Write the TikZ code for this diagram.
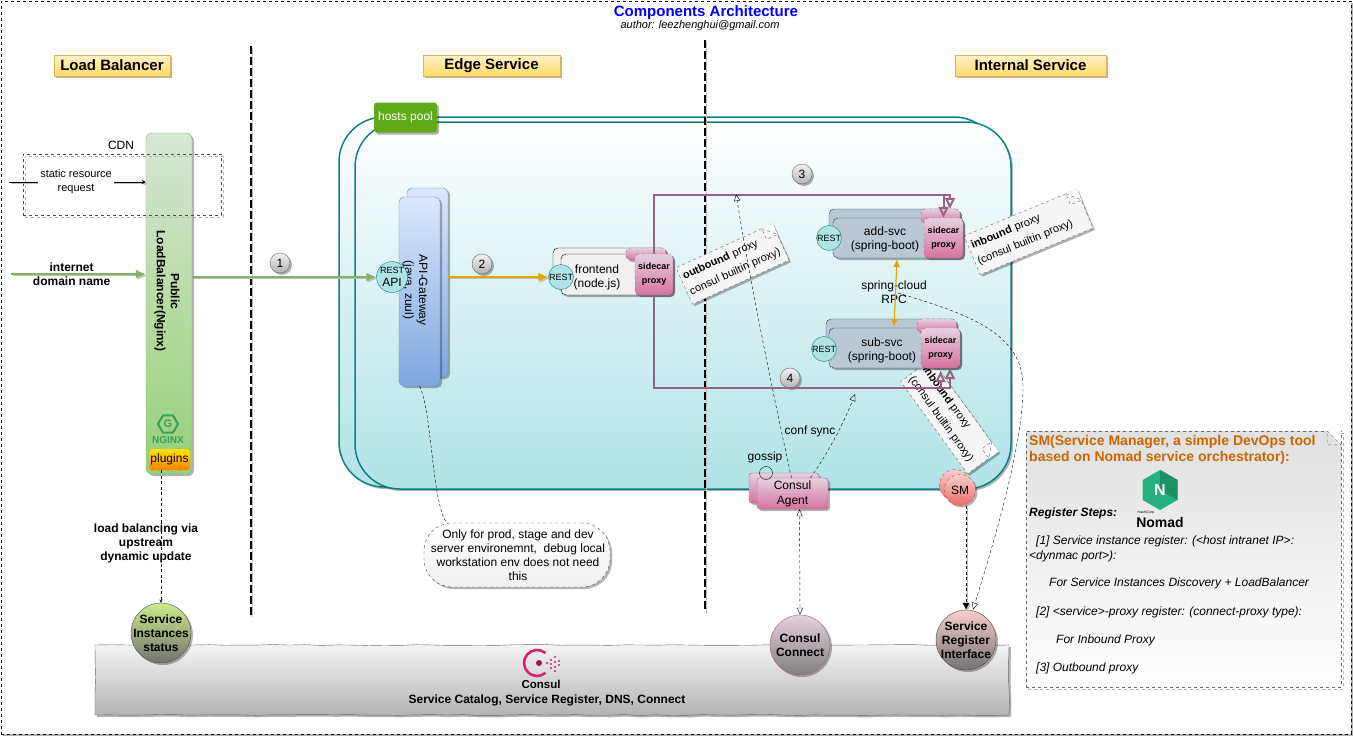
\documentclass[tikz,border=0pt]{standalone}
\usepackage{fontspec}
\setmainfont{Liberation Sans}
\usetikzlibrary{shapes.geometric, arrows.meta, positioning, calc, shadows, decorations.pathmorphing}
\definecolor{hostline}{RGB}{14, 128, 136}
\definecolor{hostfill}{RGB}{176, 227, 230}
\definecolor{poolgreen}{RGB}{96, 169, 23}
\definecolor{lbline}{RGB}{130, 179, 102}
\definecolor{lbtop}{RGB}{213, 232, 212}
\definecolor{lbbottom}{RGB}{151, 208, 119}
\definecolor{gwline}{RGB}{108, 142, 191}
\definecolor{gwtop}{RGB}{218, 232, 252}
\definecolor{gwbottom}{RGB}{126, 166, 224}
\definecolor{svcfill}{RGB}{186, 200, 211}
\definecolor{svcline}{RGB}{35, 68, 93}
\definecolor{sideline}{RGB}{153, 97, 133}
\definecolor{sidetop}{RGB}{230, 208, 222}
\definecolor{sidebottom}{RGB}{213, 115, 157}
\definecolor{amber}{RGB}{227, 165, 0}
\definecolor{bannertop}{RGB}{255, 242, 204}
\definecolor{bannerbottom}{RGB}{255, 217, 102}
\definecolor{bannerline}{RGB}{214, 182, 86}
\definecolor{smtop}{RGB}{248, 206, 204}
\definecolor{smbottom}{RGB}{234, 107, 102}
\definecolor{smline}{RGB}{184, 84, 80}
\definecolor{sminfo}{RGB}{204, 102, 0}
\definecolor{statustop}{RGB}{205, 235, 139}
\definecolor{nomadgreen}{RGB}{37, 178, 127}
\definecolor{nomaddark}{RGB}{28, 145, 100}
\definecolor{nginxgreen}{RGB}{56, 160, 90}
\definecolor{consulpink}{RGB}{214, 35, 120}
\tikzset{softshadow/.style={drop shadow={shadow xshift=2pt, shadow yshift=-2pt, opacity=0.3, fill=black}}}
\tikzset{dashshadow/.style={general shadow={shadow xshift=2pt, shadow yshift=-2pt, draw=black!30, dashed, fill=none}}}
\tikzset{lineshadow/.style={preaction={draw=black!25, transform canvas={xshift=1.5pt, yshift=-1.5pt}}}}
\tikzset{sketch/.style={decorate, decoration={random steps, segment length=16pt, amplitude=0.5pt}}}
\tikzstyle{banner} = [rectangle, minimum height=21pt, text centered, draw=bannerline, top color=bannertop, bottom color=bannerbottom, softshadow, font=\bfseries\fontsize{15}{16}\selectfont]
\tikzstyle{hosts} = [rectangle, rounded corners=45pt, draw=hostline, line width=1.5pt, top color=white, bottom color=hostfill, softshadow]
\tikzstyle{column} = [rectangle, rounded corners=6pt, draw=lbline, top color=lbtop, bottom color=lbbottom, softshadow]
\tikzstyle{gateway} = [rectangle, rounded corners=5pt, draw=gwline, top color=gwtop, bottom color=gwbottom, softshadow]
\tikzstyle{svcbox} = [rectangle, rounded corners=5pt, draw=svcline, fill=svcfill, softshadow]
\tikzstyle{webbox} = [rectangle, rounded corners=5pt, draw=black, fill=black!6, softshadow]
\tikzstyle{sidecar} = [rectangle, rounded corners=4pt, draw=sideline, dashed, top color=sidetop, bottom color=sidebottom, softshadow, align=center, font=\bfseries\fontsize{9}{14}\selectfont]
\tikzstyle{restball} = [circle, draw=hostline, fill=hostfill, inner sep=-3pt, minimum size=25pt, font=\fontsize{9}{10}\selectfont]
\tikzstyle{badge} = [circle, draw=black!60, top color=black!5, bottom color=black!30, inner sep=0pt, minimum size=20pt, softshadow, font=\fontsize{12}{14}\selectfont]
\tikzstyle{note} = [rectangle, draw=black!60, dashed, fill=black!4, inner sep=3pt, align=left, softshadow, font=\fontsize{11}{17}\selectfont]
\tikzstyle{fold} = [draw=black!60, dashed]
\tikzstyle{bigball} = [circle, draw=black!70, inner sep=-7pt, minimum size=60pt, align=center, softshadow, font=\bfseries\fontsize{12}{14}\selectfont]
\tikzstyle{smball} = [circle, draw=smline, dashed, top color=smtop, bottom color=smbottom, inner sep=0pt, minimum size=31pt, softshadow, font=\fontsize{12}{14}\selectfont]
\tikzstyle{agentbox} = [rectangle, rounded corners=3pt, draw=sideline, top color=sidetop, bottom color=sidebottom, align=center, softshadow, font=\fontsize{12}{15}\selectfont]
\tikzstyle{plain} = [align=center, inner sep=0pt, text=black, font=\fontsize{12}{14}\selectfont]
\tikzstyle{boldtext} = [align=center, inner sep=0pt, text=black, font=\bfseries\fontsize{12}{14}\selectfont]
\tikzstyle{arrow} = [thick,->,>=stealth]
\tikzstyle{flow} = [line width=2pt, lineshadow, ->, >={Latex[length=10pt,width=9pt]}]
\tikzstyle{route} = [line width=2pt, draw=sideline, ->, >={Triangle[open,length=11pt,width=10pt]}]
\tikzstyle{link} = [draw=black, dash pattern=on 3pt off 2.5pt, ->, >={Triangle[open,length=7pt,width=6pt]}]
\tikzstyle{divider} = [line width=1.8pt, lineshadow, dash pattern=on 8pt off 3pt]
\newcommand{\foldcorner}[2]{
  \fill [white] ($(#1.north east)!#2!(#1.north west)$) -- (#1.north east) -- ($(#1.north east)!#2!(#1.south east)$) -- cycle;
  \draw [fold] ($(#1.north east)!#2!(#1.north west)$) -- ($(#1.north east)!#2!(#1.south east)$) -- ($(#1.north east)!#2!(#1.south east)!#2!($(#1.north west)!#2!(#1.south west)$)$) -- cycle;
}
\begin{document}
\begin{tikzpicture}[x=1pt, y=-1pt]
    \pgfmathsetseed{7}
    \useasboundingbox (0,0) rectangle (1353,737);
    \node (frame) [rectangle, draw=black, dashed, fill=white, minimum width=1350pt, minimum height=733pt, inner sep=0pt, softshadow] at (676,367.5) {};
    \node (title) [inner sep=0pt, text=blue, font=\bfseries\fontsize{15}{16}\selectfont] at (706,12.5) {Components Architecture};
    \node (author) [inner sep=0pt, font=\itshape\fontsize{11}{13}\selectfont] at (700,25.5) {author: leezhenghui@gmail.com};

    \node (lbbanner) [banner, minimum width=116pt] at (112,65.5) {Load Balancer};
    \node (edgebanner) [banner, minimum width=137pt] at (491.5,65.5) {Edge Service};
    \node (innerbanner) [banner, minimum width=151pt] at (1030.5,65.5) {Internal Service};

    \coordinate (divAtop) at (251,46);
    \coordinate (divAend) at (251,615);
    \coordinate (divBtop) at (705,40);
    \coordinate (divBend) at (705,611);
    \draw [divider] (divAtop) -- (divAend);

    \node (consulbar) [rectangle, draw=black!60, top color=black!4, bottom color=black!30, minimum width=914pt, minimum height=70pt, inner sep=0pt, sketch, softshadow] at (552,680) {};
    \node (consultext) [boldtext] at (547,700) {Service Catalog, Service Register, DNS, Connect};
    \draw [consulpink, line width=2.6pt] (545.4,653) arc (50:310:13pt and 13pt);
    \node (consuldot) [circle, fill=consulpink!70!black, inner sep=0pt, minimum size=6pt] at (539,663) {};
    \foreach \px/\py in {547/663, 551/660, 555/657, 551/664, 555/662, 559/661, 555/667, 559/665, 551/668, 555/671} {
        \fill [consulpink] (\px,\py) circle (1.1pt);
    }
    \node (consulname) [inner sep=0pt, font=\bfseries\fontsize{11.5}{12}\selectfont] at (541,684) {Consul};

    \node (hostsback) [hosts, minimum width=660pt, minimum height=370pt, inner sep=0pt] at (669,302) {};
    \node (hostsfront) [hosts, minimum width=656pt, minimum height=367pt, inner sep=0pt] at (683,305.5) {};
    \node (hostspool) [rectangle, rounded corners=3pt, fill=poolgreen, text=white, minimum width=63pt, minimum height=30pt, inner sep=0pt, softshadow, font=\fontsize{12}{14}\selectfont] at (405.5,117.5) {hosts pool};

    \draw [divider] (divBtop) -- (divBend);

    \node (lbcol) [column, minimum width=46pt, minimum height=341pt, inner sep=0pt] at (169,303.5) {};
    \node (lblabel) [boldtext, rotate=-90] at (167,291) {Public\\LoadBalancer(Nginx)};
    \node (nginxhex) [regular polygon, regular polygon sides=6, draw=nginxgreen, line width=2pt, inner sep=0pt, minimum size=20pt, text=nginxgreen, font=\bfseries\fontsize{11}{11}\selectfont] at (168,424) {G};
    \node (nginxname) [below=3pt of nginxhex, inner sep=0pt, text=nginxgreen, font=\bfseries\fontsize{10}{10}\selectfont] {NGINX};
    \node (plugins) [rectangle, rounded corners=3pt, draw=amber, dashed, top color=yellow!80!orange, bottom color=orange, minimum width=41pt, minimum height=21pt, inner sep=0pt, font=\fontsize{12}{14}\selectfont] at (169.5,459.5) {plugins};

    \node (cdn) [rectangle, draw=black!70, dashed, dashshadow, minimum width=198pt, minimum height=61pt, inner sep=0pt] at (122,184.5) {};
    \node (cdnlabel) [plain] at (121,145) {CDN};
    \coordinate (cdnstart) at (9,182);
    \draw [arrow, black, lineshadow] (cdnstart) -- node[plain, fill=white, inner xsep=2pt, font=\fontsize{11}{14}\selectfont, pos=0.49] (cdnreq) {static resource\\request} (lbcol.west |- cdnstart);

    \coordinate (netstart) at (11,274);
    \draw [flow, lbline] (netstart) -- node[boldtext, pos=0.45] (netlabel) {internet\\domain name} (lbcol.west |- netstart);

    \node (gwback) [gateway, minimum width=41pt, minimum height=189pt, inner sep=0pt] at (427.5,282.5) {};
    \node (gwfront) [gateway, minimum width=41pt, minimum height=189pt, inner sep=0pt] at (419.5,291.5) {};
    \node (gwlabel) [plain, rotate=-90] at (415,290) {API-Gateway\\(java, zuul)};
    \node (gwrest) [restball, minimum size=31pt, align=center, font=\fontsize{9}{13}\selectfont] at (392,277) {REST\\{\fontsize{12}{13}\selectfont API}};

    \node (webback) [webbox, minimum width=113pt, minimum height=40pt, inner sep=0pt] at (609.5,268) {};
    \node (webfront) [webbox, minimum width=112pt, minimum height=41pt, inner sep=0pt] at (617,274.5) {};
    \node (webtext) [plain] at (597,277) {frontend\\(node.js)};
    \node (webback2) [sidecar, minimum width=40pt, minimum height=12pt, inner sep=0pt] at (646,254) {};
    \node (webside) [sidecar, minimum width=38pt, minimum height=41pt, inner sep=0pt] at (654,274.5) {sidecar\\proxy};
    \node (webrest) [restball] at (561,277) {REST};

    \draw [flow, lbline] (lbcol.east |- gwrest) -- (gwrest);
    \draw [flow, amber] (gwback.east |- webrest) -- (webrest);
    \node (badgeone) [badge] at (280,263) {1};
    \node (badgetwo) [badge] at (482,264) {2};
    \node (badgethree) [badge] at (802,174) {3};
    \node (badgefour) [badge] at (790,378) {4};

    \node (noteout) [note, rotate=24.5, text width=100pt, minimum height=40pt] at (732.5,264) {\textbf{outbound} proxy\\consul builtin proxy)};
    \foldcorner{noteout}{12pt}
    \node (notein) [note, rotate=22.5, text width=116pt, minimum height=42pt] at (1028.5,232) {\textbf{inbound} proxy\\(consul builtin proxy)};
    \foldcorner{notein}{12pt}
    \node (notesub) [note, rotate=-54, text width=108pt, minimum height=38pt] at (949.5,416.5) {\textbf{inbound} proxy\\(consul builtin proxy)};
    \foldcorner{notesub}{12pt}

    \node (addback) [svcbox, minimum width=131pt, minimum height=40pt, inner sep=0pt] at (894.5,229) {};
    \node (addfront) [svcbox, minimum width=130pt, minimum height=40pt, inner sep=0pt] at (898,238) {};
    \node (addtext) [plain] at (885,239) {add-svc\\(spring-boot)};
    \node (addback2) [sidecar, minimum width=39pt, minimum height=14pt, inner sep=0pt] at (940.5,216) {};
    \node (addside) [sidecar, minimum width=39pt, minimum height=40pt, inner sep=0pt] at (943.5,238) {sidecar\\proxy};
    \node (addrest) [restball] at (829,238) {REST};

    \node (subback) [svcbox, minimum width=130pt, minimum height=40pt, inner sep=0pt] at (891,339) {};
    \node (subfront) [svcbox, minimum width=131pt, minimum height=40pt, inner sep=0pt] at (894.5,348) {};
    \node (subtext) [plain] at (882,350) {sub-svc\\(spring-boot)};
    \node (subback2) [sidecar, minimum width=39pt, minimum height=14pt, inner sep=0pt] at (937,326) {};
    \node (subside) [sidecar, minimum width=39pt, minimum height=40pt, inner sep=0pt] at (940.5,348) {sidecar\\proxy};
    \node (subrest) [restball] at (824,349) {REST};

    \draw [route] (webside.north) -- ++(0,-59) -| (addside.north);
    \draw [route] (webside.north) -- ++(0,-59) -| ([xshift=9.5pt]addback2.north);
    \draw [route] (webside.south) -- ++(0,93) -| ([yshift=-3pt]subside.south);
    \draw [route] (webside.south) -- ++(0,93) -| ([xshift=9.5pt]subside.south);

    \node (rpclabel) [plain] at (894,292) {spring-cloud\\RPC};
    \draw [amber, line width=1.2pt, <->, >={Latex[length=8pt,width=7pt]}] (897,259) -- (894,327);

    \node (agentback) [agentbox, minimum width=70pt, minimum height=30pt, inner sep=0pt] at (784,488) {};
    \node (agent) [agentbox, minimum width=71pt, minimum height=31pt, inner sep=0pt] at (792.5,493.5) {Consul\\Agent};
    \node (gossiplabel) [plain] at (765,457) {gossip};
    \node (syncloop) [circle, draw=black, inner sep=0pt, minimum size=13pt] at (766,473) {};
    \node (synclabel) [plain] at (810,431) {conf sync};
    \coordinate (syncup) at (736,194);
    \coordinate (syncright) at (855,394);
    \draw [link] ([xshift=-1pt]agent.north) .. controls (770,380) and (750,280) .. (syncup);
    \draw [link] ([xshift=18pt]agent.north) .. controls (830,450) and (845,420) .. (syncright);

    \node (smback) [smball] at (955,485) {};
    \node (smnode) [smball] at (960,490) {SM};

    \node (connect) [bigball, draw=sideline, top color=sidetop, bottom color=black!50] at (800,645) {Consul\\Connect};
    \node (register) [bigball, top color=smtop, bottom color=black!55] at (966,640) {Service\\Register\\Interface};
    \node (status) [bigball, top color=statustop, bottom color=black!55] at (161,633) {Service\\Instances\\status};

    \draw [link, {Triangle[open,length=7pt,width=6pt]}-{Triangle[open,length=7pt,width=6pt]}] ([xshift=7pt]agent.south) -- (connect.north);
    \draw [draw=black, dash pattern=on 3pt off 2.5pt, lineshadow, ->, >={Latex[length=7pt,width=7pt]}] (smnode.south -| register) -- (register.north);
    \draw [link] (rpclabel.center) ++(4,1) .. controls (960,312) and (1022,330) .. (1023,385) .. controls (1024,450) and (985,570) .. ([xshift=7pt]register.north);
    \draw [draw=black, dash pattern=on 3pt off 2.5pt, ->, >=stealth] (plugins.south -| status) -- (status.north);
    \node (lbtext) [boldtext] at (146,543) {load balancing via\\upstream\\dynamic update};

    \node (gwnote) [rectangle, rounded corners=28pt, draw=black!70, dashed, top color=white, bottom color=black!6, minimum width=186pt, minimum height=64pt, inner sep=0pt, softshadow] at (517,555) {};
    \node (gwnotetext) [plain] at (518,555) {Only for prod, stage and dev\\server environemnt,\ \ debug local\\workstation env does not need\\this};
    \draw [draw=black, dash pattern=on 3pt off 2pt] (gwfront.south) .. controls (432,410) and (432,505) .. ([xshift=23pt]gwnote.north west);

    \node (smnote) [rectangle, draw=black!60, dashed, dashshadow, top color=black!12, bottom color=white, minimum width=315pt, minimum height=256pt, inner sep=0pt] at (1183.5,559) {};
    \foldcorner{smnote}{14pt}
    \node (smtitle) [inner sep=0pt, anchor=north west, align=left, text=sminfo, font=\bfseries\fontsize{14}{16}\selectfont] at (1029,435) {SM(Service Manager, a simple DevOps tool\\based on Nomad service orchestrator):};
    \node (smsteps) [inner sep=0pt, anchor=west, font=\bfseries\itshape\fontsize{12}{14}\selectfont] at (1029,513) {Register Steps:};
    \node (nomadhex) [regular polygon, regular polygon sides=6, shape border rotate=30, fill=nomadgreen, inner sep=0pt, minimum size=40pt] at (1160,490) {};
    \fill [nomaddark] (nomadhex.center) -- (nomadhex.corner 5) -- (nomadhex.corner 6) -- (nomadhex.corner 1) -- cycle;
    \node (nomadletter) [inner sep=0pt, text=white, font=\bfseries\fontsize{16}{16}\selectfont] at (nomadhex.center) {N};
    \node (nomadcorp) [inner sep=0pt, font=\fontsize{3.5}{4}\selectfont] at (1146,513) {HashiCorp};
    \node (nomadname) [inner sep=0pt, font=\bfseries\fontsize{14}{14}\selectfont] at (1160,522) {Nomad};
    \node (smbody) [inner sep=0pt, anchor=north west, align=left, font=\itshape\fontsize{12}{15}\selectfont] at (1029,536) {\hspace*{7pt}[1] Service instance register: (<host intranet IP>:\\<dynmac port>):\\[12pt]\hspace*{20pt}For Service Instances Discovery + LoadBalancer\\[14pt]\hspace*{7pt}[2] <service>-proxy register: (connect-proxy type):\\[13pt]\hspace*{27pt}For Inbound Proxy\\[13pt]\hspace*{7pt}[3] Outbound proxy};
\end{tikzpicture}
\end{document}
